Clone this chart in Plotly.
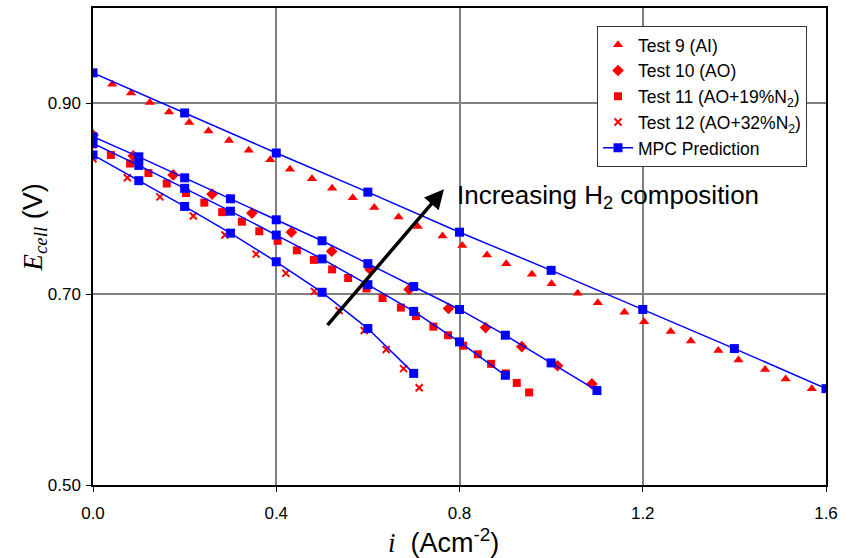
import plotly.graph_objects as go

# ---------------- data ----------------
t9_x = [0.0, 0.042, 0.083, 0.124, 0.166, 0.210, 0.252, 0.297, 0.340, 0.387, 0.430, 0.478, 0.522,
        0.567, 0.614, 0.667, 0.709, 0.763, 0.806, 0.860, 0.902, 0.958, 1.001, 1.058, 1.102,
        1.160, 1.203, 1.261, 1.305, 1.365, 1.409, 1.467, 1.512, 1.569]
t9_y = [0.930, 0.920, 0.911, 0.901, 0.891, 0.880, 0.871, 0.861, 0.851, 0.841, 0.831, 0.821, 0.811,
        0.801, 0.791, 0.781, 0.771, 0.761, 0.751, 0.741, 0.732, 0.721, 0.711, 0.701, 0.691,
        0.681, 0.671, 0.661, 0.651, 0.641, 0.631, 0.621, 0.611, 0.601]

t10_x = [0.0, 0.088, 0.175, 0.260, 0.347, 0.433, 0.521, 0.605, 0.690, 0.776, 0.857, 0.936, 1.014, 1.089]
t10_y = [0.867, 0.845, 0.825, 0.805, 0.785, 0.765, 0.745, 0.726, 0.705, 0.685, 0.665, 0.645, 0.625, 0.606]

t11_x = [0.0, 0.039, 0.081, 0.121, 0.161, 0.203, 0.243, 0.282, 0.325, 0.363, 0.403, 0.445, 0.482,
         0.522, 0.557, 0.597, 0.632, 0.672, 0.705, 0.743, 0.775, 0.808, 0.840, 0.869, 0.901,
         0.925, 0.952]
t11_y = [0.857, 0.846, 0.837, 0.827, 0.816, 0.806, 0.796, 0.786, 0.776, 0.766, 0.756, 0.746, 0.736,
         0.726, 0.717, 0.706, 0.696, 0.686, 0.677, 0.666, 0.657, 0.646, 0.637, 0.627, 0.617,
         0.607, 0.597]

t12_x = [0.0, 0.075, 0.146, 0.219, 0.288, 0.356, 0.421, 0.483, 0.537, 0.592, 0.640, 0.678, 0.712]
t12_y = [0.842, 0.822, 0.802, 0.782, 0.762, 0.742, 0.722, 0.703, 0.683, 0.662, 0.642, 0.622, 0.602]

mpc9_x = [0.0, 0.2, 0.4, 0.6, 0.8, 1.0, 1.2, 1.4, 1.6]
mpc9_y = [0.932, 0.890, 0.848, 0.807, 0.765, 0.725, 0.684, 0.643, 0.601]

mpc10_x = [0.0, 0.1, 0.2, 0.3, 0.4, 0.5, 0.6, 0.7, 0.8, 0.9, 1.0, 1.1]
mpc10_y = [0.865, 0.844, 0.822, 0.800, 0.778, 0.756, 0.732, 0.708, 0.684, 0.657, 0.628, 0.599]

mpc11_x = [0.0, 0.1, 0.2, 0.3, 0.4, 0.5, 0.6, 0.7, 0.8, 0.9]
mpc11_y = [0.858, 0.835, 0.811, 0.787, 0.762, 0.737, 0.710, 0.682, 0.650, 0.615]

mpc12_x = [0.0, 0.1, 0.2, 0.3, 0.4, 0.5, 0.6, 0.7]
mpc12_y = [0.846, 0.819, 0.792, 0.764, 0.734, 0.702, 0.664, 0.617]

x_ticks = [0.0, 0.4, 0.8, 1.2, 1.6]
x_tick_labels = ["0.0", "0.4", "0.8", "1.2", "1.6"]
y_ticks = [0.5, 0.7, 0.9]
y_tick_labels = ["0.50", "0.70", "0.90"]

arrow_tail = (0.509, 0.666)
arrow_head = (0.766, 0.810)
label_pos = (0.790, 0.802)

# ---------------- figure ----------------
RED = "#ff0000"
BLUE = "#0000ff"
SANS = "Liberation Sans, Arial, sans-serif"

fig = go.Figure()

fig.add_trace(go.Scatter(x=t9_x, y=t9_y, mode="markers", name="Test 9 (AI)",
                         marker=dict(symbol="triangle-up", size=9, color=RED)))
fig.add_trace(go.Scatter(x=t10_x, y=t10_y, mode="markers", name="Test 10 (AO)",
                         marker=dict(symbol="diamond", size=9, color=RED)))
fig.add_trace(go.Scatter(x=t11_x, y=t11_y, mode="markers", name="Test 11 (AO+19%N<sub>2</sub>)",
                         marker=dict(symbol="square", size=8, color=RED)))
fig.add_trace(go.Scatter(x=t12_x, y=t12_y, mode="markers", name="Test 12 (AO+32%N<sub>2</sub>)",
                         marker=dict(symbol="x-thin", size=7, color=RED,
                                     line=dict(color=RED, width=2))))

mpc_x, mpc_y = [], []
for xs, ys in [(mpc9_x, mpc9_y), (mpc10_x, mpc10_y), (mpc11_x, mpc11_y), (mpc12_x, mpc12_y)]:
    mpc_x += xs + [None]
    mpc_y += ys + [None]

fig.add_trace(go.Scatter(x=mpc_x, y=mpc_y, mode="lines+markers", name="MPC Prediction",
                         connectgaps=False,
                         line=dict(color=BLUE, width=1.5),
                         marker=dict(symbol="square", size=9, color=BLUE)))

fig.update_layout(
    width=852, height=558,
    margin=dict(l=93, r=26, t=6, b=73),
    paper_bgcolor="white", plot_bgcolor="white",
    font=dict(family=SANS, size=17, color="black"),
    showlegend=True,
    legend=dict(x=0.6876, y=0.9625, xanchor="left", yanchor="top",
                bgcolor="white", bordercolor="#333333", borderwidth=1,
                font=dict(family=SANS, size=17.5, color="black"),
                itemwidth=30, tracegroupgap=0),
    xaxis=dict(range=[0, 1.6], tickvals=x_ticks, ticktext=x_tick_labels,
               showgrid=True, gridcolor="#808080", gridwidth=1.5,
               showline=True, linecolor="black", linewidth=1.5, mirror=True,
               ticks="outside", ticklen=5, tickcolor="black", tickwidth=1,
               ticklabelstandoff=7,
               tickfont=dict(family=SANS, size=17), zeroline=False),
    yaxis=dict(range=[0.5, 1.0], tickvals=y_ticks, ticktext=y_tick_labels,
               showgrid=True, gridcolor="#808080", gridwidth=1.5,
               showline=True, linecolor="black", linewidth=1.5, mirror=True,
               ticks="outside", ticklen=5, tickcolor="black", tickwidth=1,
               ticklabelstandoff=2,
               tickfont=dict(family=SANS, size=17), zeroline=False),
)

# arrow
fig.add_annotation(x=arrow_head[0], y=arrow_head[1], ax=arrow_tail[0], ay=arrow_tail[1],
                   xref="x", yref="y", axref="x", ayref="y", text="",
                   showarrow=True, arrowhead=2, arrowsize=1.1, arrowwidth=3.5,
                   arrowcolor="black")
fig.add_annotation(x=label_pos[0], y=label_pos[1], xref="x", yref="y",
                   text="Increasing H<sub>2</sub> composition", showarrow=False,
                   xanchor="left", yanchor="middle",
                   font=dict(family=SANS, size=26, color="black"))

# axis titles
fig.add_annotation(xref="paper", yref="paper", x=-0.079, y=0.54,
                   xanchor="center", yanchor="middle", textangle=-90, showarrow=False,
                   text=('<span style="font-family:Liberation Serif"><i>E</i><sub><i>cell</i></sub></span>'
                         ' (V)'),
                   font=dict(family=SANS, size=27, color="black"))
fig.add_annotation(xref="paper", yref="paper", x=0.478, y=-0.118,
                   xanchor="center", yanchor="middle", showarrow=False,
                   text=('<span style="font-family:Liberation Serif"><i>i</i></span>'
                         '  (Acm<sup>-2</sup>)'),
                   font=dict(family=SANS, size=27, color="black"))

fig.write_html("out.html", config={"displayModeBar": False},
               post_script="document.body.style.margin='0';document.body.style.overflow='hidden';")
